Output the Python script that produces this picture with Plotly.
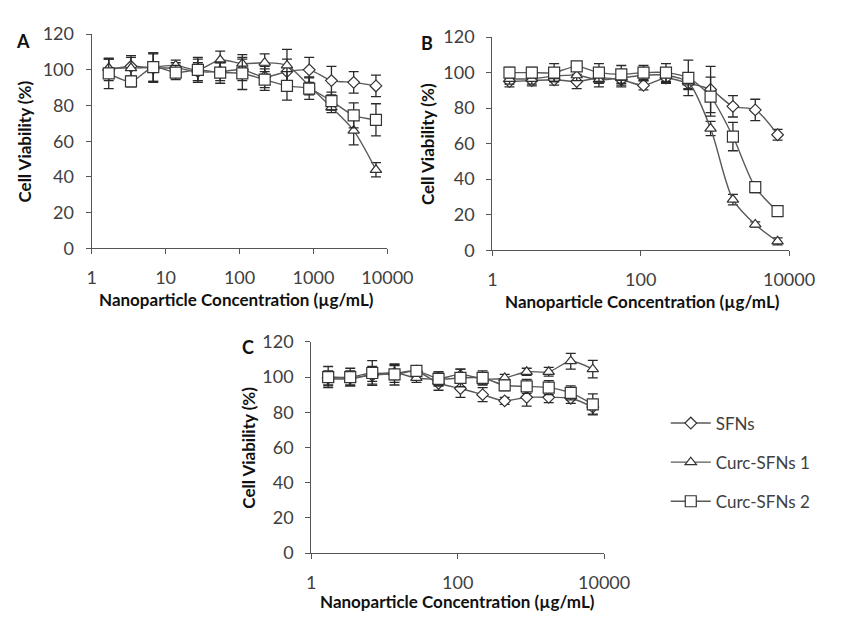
import plotly.graph_objects as go

# Concentrations (µg/mL)
conc = [1.7, 3.4, 6.8, 13.7, 27.3, 54.7, 109, 219, 438, 875, 1750, 3500, 7000]

series_names = ["SFNs", "Curc-SFNs 1", "Curc-SFNs 2"]

# Panel A
a_sfn = [100, 102, 101, 101, 99, 99, 100, 96, 99, 100, 94, 93, 91]
a_sfn_err = [6, 6, 8, 3, 5, 5, 6, 6, 7, 7, 8, 6, 6]
a_c1 = [101, 101, 101.5, 102.5, 100, 105.5, 103.5, 104, 102.5, 91, 79, 66, 44]
a_c1_err = [5, 6, 8, 3, 7, 5, 5, 5, 9, 5, 3, 8, 4]
a_c2 = [98, 93.5, 101.5, 98.5, 100, 98.5, 98, 94.5, 91, 89.5, 82.5, 74.5, 72]
a_c2_err = [8.5, 3, 8, 4, 6, 6, 9, 6, 8, 6, 5, 7, 9]

# Panel B
b_sfn = [95, 95.5, 96, 95, 97, 96, 92.8, 97, 94, 90.5, 81, 79, 65]
b_sfn_err = [3, 3, 3, 4, 3, 4, 2.5, 3, 3, 13, 6, 6, 3]
b_c1 = [96.5, 96.5, 98, 98.5, 96, 97, 98.5, 98.5, 94.5, 68.5, 28.5, 14.5, 5]
b_c1_err = [3, 3, 3, 3, 4, 4, 3, 4, 4, 4, 3, 1.5, 2]
b_c2 = [100, 100, 100, 103.5, 100, 99, 100, 100, 97, 86.5, 64, 35.5, 22]
b_c2_err = [3, 3, 5, 2, 5, 5, 4, 5, 10, 11, 8, 3, 1.5]

# Panel C
c_sfn = [99.5, 99.5, 101, 102, 103.3, 96.5, 93.5, 90, 86.5, 88.5, 88.5, 88, 83]
c_sfn_err = [4, 4, 5, 5, 3, 4, 5, 4, 2, 5, 3, 3, 4]
c_c1 = [99, 99, 101.5, 102.5, 99.5, 99, 101.5, 99, 99.5, 103, 103, 109, 104.5]
c_c1_err = [4, 4, 4, 4, 2.5, 4, 3, 3, 2, 2, 2.5, 4.5, 5]
c_c2 = [100, 100, 102.3, 101.5, 103.5, 99, 99.5, 99.5, 95.3, 94.7, 94, 91, 84.5]
c_c2_err = [6, 5, 7, 6, 3, 4, 5, 4, 3, 4, 4, 4, 6]

y_ticks = [0, 20, 40, 60, 80, 100, 120]

symbols = ["diamond", "triangle-up", "square"]
sizes = [9, 10, 11]

FONT = "Lato"
TEXT = "#404040"
LINE = "#5a5a5a"

fig = go.Figure()

panels = [
    ("x", "y", [(a_sfn, a_sfn_err), (a_c1, a_c1_err), (a_c2, a_c2_err)]),
    ("x2", "y2", [(b_sfn, b_sfn_err), (b_c1, b_c1_err), (b_c2, b_c2_err)]),
    ("x3", "y3", [(c_sfn, c_sfn_err), (c_c1, c_c1_err), (c_c2, c_c2_err)]),
]

for pi, (xa, ya, data) in enumerate(panels):
    for si, (vals, errs) in enumerate(data):
        fig.add_trace(go.Scatter(
            x=conc, y=vals,
            xaxis=xa, yaxis=ya,
            mode="lines+markers",
            name=series_names[si],
            legendgroup=series_names[si],
            showlegend=(pi == 0),
            line=dict(color=LINE, width=1.4, shape="spline", smoothing=0.8),
            marker=dict(symbol=symbols[si], size=sizes[si], color="white",
                        line=dict(color="#333333", width=1.2)),
            error_y=dict(type="data", array=errs, visible=True,
                         color="#2a2a2a", thickness=1.3, width=5),
        ))

W, H = 843, 620

def px_x(a, b):
    return [a / W, b / W]

def px_y(top, bottom):
    return [1 - bottom / H, 1 - top / H]

axis_common = dict(
    showline=True, linecolor="#555555", linewidth=1.2,
    showgrid=False, zeroline=False,
    ticks="outside", tickcolor="#555555", ticklen=5, tickwidth=1.2,
    tickfont=dict(family=FONT, size=18, color=TEXT),
)

xa_A = dict(axis_common, type="log", range=[0, 4], domain=px_x(90, 397),
            tickvals=[1, 10, 100, 1000, 10000],
            ticktext=["1", "10", "100", "1000", "10000"],
            anchor="y", ticklabelstandoff=8)
xa_B = dict(axis_common, type="log", range=[0, 4], domain=px_x(506, 814),
            tickvals=[1, 100, 10000], ticktext=["1", "100", "10000"],
            anchor="y2", ticklabelstandoff=8)
xa_C = dict(axis_common, type="log", range=[0, 4], domain=px_x(318, 622),
            tickvals=[1, 100, 10000], ticktext=["1", "100", "10000"],
            anchor="y3", ticklabelstandoff=8)

ya_A = dict(axis_common, range=[0, 120], domain=px_y(23, 245), tickvals=y_ticks,
            anchor="x", ticklabelstandoff=8)
ya_B = dict(axis_common, range=[0, 120], domain=px_y(26, 247), tickvals=y_ticks,
            anchor="x2", ticklabelstandoff=8)
ya_C = dict(axis_common, range=[0, 120], domain=px_y(342, 561), tickvals=y_ticks,
            anchor="x3", ticklabelstandoff=8)

annotations = []

def ann(text, x, y, angle=0, size=17, color="#111111"):
    annotations.append(dict(
        text=text, x=x / W, y=1 - y / H, xref="paper", yref="paper",
        showarrow=False, textangle=angle, xanchor="center", yanchor="middle",
        font=dict(family=FONT, size=size, color=color),
    ))

# Panel letters
ann("<b>A</b>", 19, 30, size=18)
ann("<b>B</b>", 438, 32, size=18)
ann("<b>C</b>", 252, 347, size=18)

# Y-axis titles
ann("<b>Cell Viability (%)</b>", 20, 134, angle=-90)
ann("<b>Cell Viability (%)</b>", 438, 137, angle=-90)
ann("<b>Cell Viability (%)</b>", 253, 452, angle=-90)

# X-axis titles
ann("<b>Nanoparticle Concentration (µg/mL)</b>", 240, 298)
ann("<b>Nanoparticle Concentration (µg/mL)</b>", 662, 300)
ann("<b>Nanoparticle Concentration (µg/mL)</b>", 470, 611)

fig.update_layout(
    width=W, height=H,
    margin=dict(l=0, r=0, t=0, b=0),
    paper_bgcolor="white", plot_bgcolor="white",
    xaxis=xa_A, yaxis=ya_A,
    xaxis2=xa_B, yaxis2=ya_B,
    xaxis3=xa_C, yaxis3=ya_C,
    annotations=annotations,
    showlegend=True,
    legend=dict(
        x=686 / W, y=1 - 408 / H, xanchor="left", yanchor="top",
        font=dict(family=FONT, size=17, color=TEXT),
        bgcolor="rgba(0,0,0,0)", tracegroupgap=14,
        itemwidth=40,
    ),
)

fig.write_html("out.html")
